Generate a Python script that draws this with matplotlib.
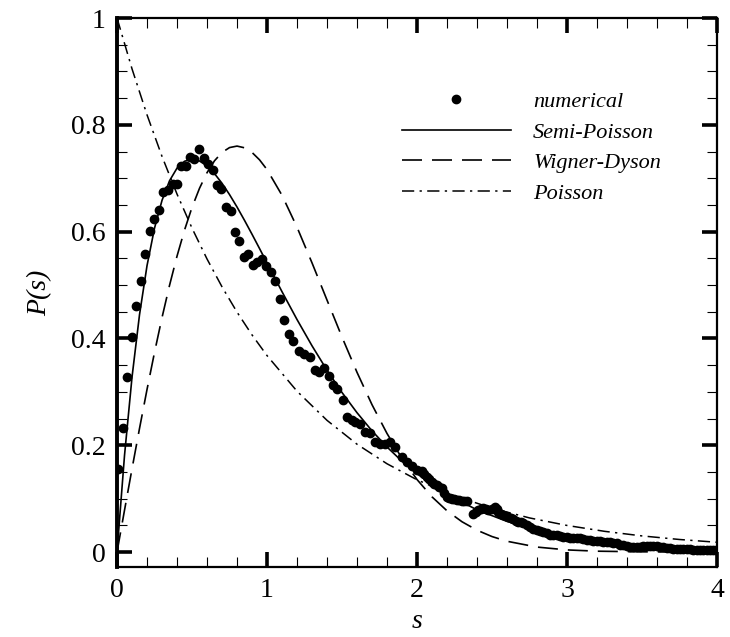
"""Level-spacing distribution P(s): numerical data vs Semi-Poisson, Wigner-Dyson, Poisson."""

import matplotlib

matplotlib.use("Agg")
import matplotlib.pyplot as plt
from matplotlib.ticker import FixedLocator, MultipleLocator

plt.rcParams["font.family"] = ["Liberation Serif", "DejaVu Serif"]

# numerical histogram
S_NUM = [
    0.009, 0.038, 0.069, 0.100, 0.127, 0.158, 0.189, 0.220, 0.249, 0.278,
    0.309, 0.338, 0.371, 0.400, 0.429, 0.458, 0.487, 0.515, 0.547, 0.580,
    0.605, 0.638, 0.669, 0.695, 0.727, 0.758, 0.787, 0.815, 0.847, 0.876,
    0.904, 0.936, 0.964, 0.993, 1.024, 1.055, 1.087, 1.113, 1.145, 1.171,
    1.215, 1.248, 1.287, 1.320, 1.349, 1.380, 1.415, 1.442, 1.469, 1.504,
    1.531, 1.564, 1.587, 1.620, 1.653, 1.687, 1.720, 1.753, 1.787, 1.820,
    1.853, 1.898, 1.930, 1.965, 1.998, 2.031, 2.065, 2.098, 2.131, 2.165,
    2.198, 2.231, 2.265, 2.298, 2.331, 2.375, 2.409, 2.442, 2.475, 2.520,
    2.542, 2.575, 2.609, 2.642, 2.675, 2.709, 2.753, 2.798, 2.842, 2.887,
    2.931, 2.976, 3.020, 3.064, 3.109, 3.153, 3.198, 3.242, 3.287, 3.331,
    3.376, 3.420, 3.464, 3.509, 3.553, 3.598, 3.642, 3.687, 3.731, 3.776,
    3.820, 3.864, 3.909, 3.953, 3.990,
]
P_NUM = [
    0.155, 0.232, 0.327, 0.402, 0.460, 0.508, 0.558, 0.602, 0.623, 0.641,
    0.675, 0.678, 0.689, 0.689, 0.722, 0.723, 0.739, 0.736, 0.755, 0.738,
    0.726, 0.715, 0.688, 0.680, 0.647, 0.639, 0.600, 0.582, 0.552, 0.558,
    0.538, 0.543, 0.549, 0.536, 0.524, 0.508, 0.473, 0.434, 0.409, 0.396,
    0.376, 0.371, 0.366, 0.340, 0.337, 0.345, 0.329, 0.312, 0.306, 0.284,
    0.253, 0.248, 0.244, 0.239, 0.225, 0.222, 0.206, 0.202, 0.203, 0.206,
    0.197, 0.178, 0.168, 0.161, 0.153, 0.152, 0.141, 0.131, 0.125, 0.119,
    0.103, 0.100, 0.098, 0.096, 0.096, 0.072, 0.078, 0.082, 0.078, 0.084,
    0.075, 0.069, 0.066, 0.061, 0.057, 0.054, 0.047, 0.042, 0.038, 0.032,
    0.031, 0.029, 0.027, 0.027, 0.025, 0.022, 0.021, 0.019, 0.018, 0.016,
    0.013, 0.010, 0.010, 0.011, 0.011, 0.011, 0.009, 0.007, 0.005, 0.005,
    0.005, 0.004, 0.004, 0.004, 0.003,
]
# extra histogram points (s > 2)
S_NUM_TAIL = [
    2.048, 2.081, 2.115, 2.148, 2.181, 2.215, 2.248, 2.281, 2.315, 2.392,
    2.425, 2.458, 2.497, 2.531, 2.558, 2.592, 2.625, 2.658, 2.692, 2.731,
    2.776, 2.820, 2.865, 2.909, 2.954, 2.998, 3.042, 3.087, 3.131, 3.176,
    3.220, 3.265, 3.309, 3.354, 3.398, 3.442, 3.487, 3.531, 3.576, 3.620,
    3.665, 3.709, 3.754, 3.798, 3.842, 3.887, 3.931, 3.972,
]
P_NUM_TAIL = [
    0.146, 0.136, 0.128, 0.122, 0.110, 0.101, 0.099, 0.097, 0.096, 0.075,
    0.080, 0.080, 0.081, 0.080, 0.072, 0.068, 0.063, 0.059, 0.056, 0.050,
    0.044, 0.040, 0.035, 0.032, 0.030, 0.028, 0.027, 0.026, 0.023, 0.021,
    0.020, 0.018, 0.017, 0.014, 0.011, 0.010, 0.010, 0.011, 0.011, 0.010,
    0.008, 0.006, 0.005, 0.005, 0.004, 0.004, 0.004, 0.003,
]

# Semi-Poisson curve samples
S_SP = [0.0, 0.05, 0.10, 0.15, 0.20, 0.25, 0.30, 0.35, 0.40, 0.45, 0.50,
        0.55, 0.60, 0.65, 0.70, 0.75, 0.80, 0.85, 0.90, 0.95, 1.00, 1.1,
        1.2, 1.3, 1.4, 1.5, 1.6, 1.7, 1.8, 1.9, 2.0, 2.2, 2.4, 2.6, 2.8,
        3.0, 3.2, 3.4, 3.6, 3.8, 4.0]
P_SP = [0.0, 0.1810, 0.3275, 0.4445, 0.5363, 0.6065, 0.6586, 0.6952, 0.7189,
        0.7318, 0.7358, 0.7323, 0.7229, 0.7086, 0.6905, 0.6694, 0.6461,
        0.6211, 0.5951, 0.5684, 0.5413, 0.4875, 0.4354, 0.3862, 0.3405,
        0.2987, 0.2609, 0.2269, 0.1967, 0.1700, 0.1465, 0.1080, 0.0790,
        0.0574, 0.0414, 0.0297, 0.0213, 0.0151, 0.0108, 0.0076, 0.0054]

# Wigner-Dyson curve samples
S_WD = [0.0, 0.05, 0.10, 0.15, 0.20, 0.25, 0.30, 0.35, 0.40, 0.45, 0.50,
        0.55, 0.60, 0.65, 0.70, 0.75, 0.80, 0.85, 0.90, 0.95, 1.00, 1.1,
        1.2, 1.3, 1.4, 1.5, 1.6, 1.7, 1.8, 1.9, 2.0, 2.1, 2.2, 2.3, 2.4,
        2.5, 2.6, 2.8, 3.0, 3.2, 3.5, 4.0]
P_WD = [0.0, 0.0784, 0.1559, 0.2315, 0.3044, 0.3739, 0.4391, 0.4993, 0.5541,
        0.6029, 0.6454, 0.6812, 0.7104, 0.7327, 0.7483, 0.7574, 0.7602,
        0.7570, 0.7483, 0.7345, 0.7162, 0.6680, 0.6083, 0.5415, 0.4718,
        0.4025, 0.3365, 0.2759, 0.2220, 0.1752, 0.1358, 0.1033, 0.0772,
        0.0567, 0.0409, 0.0290, 0.0202, 0.0093, 0.0040, 0.0016, 0.0004,
        0.0000]

# Poisson curve samples
S_PO = [0.0, 0.1, 0.2, 0.3, 0.4, 0.5, 0.6, 0.7, 0.8, 0.9, 1.0, 1.2, 1.4,
        1.6, 1.8, 2.0, 2.25, 2.5, 2.75, 3.0, 3.25, 3.5, 3.75, 4.0]
P_PO = [1.0, 0.9048, 0.8187, 0.7408, 0.6703, 0.6065, 0.5488, 0.4966, 0.4493,
        0.4066, 0.3679, 0.3012, 0.2466, 0.2019, 0.1653, 0.1353, 0.1054,
        0.0821, 0.0639, 0.0498, 0.0388, 0.0302, 0.0235, 0.0183]

X_TICKS = [0, 1, 2, 3, 4]
Y_TICKS = [0, 0.2, 0.4, 0.6, 0.8, 1]
Y_LABELS = ["0", "0.2", "0.4", "0.6", "0.8", "1"]


def main() -> None:
    fig = plt.figure(figsize=(7.3, 6.37), dpi=100)
    ax = fig.add_axes([0.1603, 0.1099, 0.8219, 0.8618])

    s_num = S_NUM + S_NUM_TAIL
    p_num = P_NUM + P_NUM_TAIL
    ax.plot(s_num, p_num, "o", color="black", markersize=6, label="numerical", zorder=3)
    ax.plot(S_SP, P_SP, "-", color="black", lw=1.2, label="Semi-Poisson")
    ax.plot(S_WD, P_WD, color="black", lw=1.2, dashes=(12, 6), label="Wigner-Dyson")
    ax.plot(S_PO, P_PO, color="black", lw=1.1, dashes=(8, 3.5, 1.5, 3.5), label="Poisson")

    ax.set_xlim(0, 4)
    ax.set_ylim(-0.028, 1.0)
    ax.xaxis.set_major_locator(FixedLocator(X_TICKS))
    ax.xaxis.set_minor_locator(MultipleLocator(0.2))
    ax.yaxis.set_major_locator(FixedLocator(Y_TICKS))
    ax.yaxis.set_minor_locator(MultipleLocator(0.05))
    ax.set_xticklabels([str(t) for t in X_TICKS])
    ax.set_yticklabels(Y_LABELS)

    ax.tick_params(which="both", direction="in", top=True, right=True, labelsize=20)
    ax.tick_params(which="major", length=11, width=2.6, pad=8)
    ax.tick_params(which="minor", length=7, width=0.8)

    for side in ["top", "right", "bottom"]:
        ax.spines[side].set_linewidth(1.6)
    ax.spines["left"].set_linewidth(2.8)

    ax.set_xlabel("s", fontsize=20, style="italic", labelpad=4)
    ax.set_ylabel("P(s)", fontsize=20, style="italic", labelpad=14)

    ax.legend(
        loc="upper left",
        bbox_to_anchor=(0.475, 0.866),
        frameon=False,
        prop={"style": "italic", "size": 16},
        handlelength=4.9,
        handletextpad=1.0,
        labelspacing=0.45,
        borderpad=0,
        borderaxespad=0,
        numpoints=1,
    )

    fig.savefig("out.png", dpi=100)


if __name__ == "__main__":
    main()
